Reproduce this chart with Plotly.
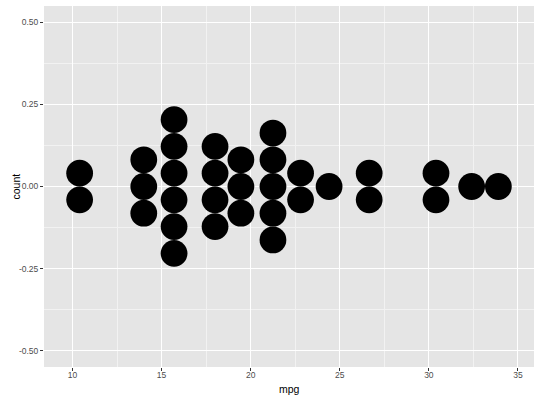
import plotly.graph_objects as go

# mtcars mpg values
mpg = [21.0, 21.0, 22.8, 21.4, 18.7, 18.1, 14.3, 24.4, 22.8, 19.2, 17.8, 16.4,
       17.3, 15.2, 10.4, 10.4, 14.7, 32.4, 30.4, 33.9, 21.5, 15.5, 15.2, 13.3,
       19.2, 27.3, 26.0, 30.4, 15.8, 19.7, 15.0, 21.4]
binwidth = 1.5
x_ticks = [10, 15, 20, 25, 30, 35]
x_minor = [12.5, 17.5, 22.5, 27.5, 32.5]
y_ticks = [-0.50, -0.25, 0.00, 0.25, 0.50]
y_tick_labels = ["-0.50", "-0.25", "0.00", "0.25", "0.50"]
y_minor = [-0.375, -0.125, 0.125, 0.375]
x_title = "mpg"
y_title = "count"

W, H = 540, 400
ML, MR, MT, MB = 44, 5.5, 5.5, 33.3

# dot-density binning (ggplot2 geom_dotplot default)
vals = sorted(mpg)
bins = []
binend = float("-inf")
for v in vals:
    if v >= binend:
        binend = v + binwidth
        bins.append([])
    bins[-1].append(v)
centers = [(min(b) + max(b)) / 2 for b in bins]
counts = [len(b) for b in bins]

# scales
lo, hi = min(vals) - binwidth / 2, max(vals) + binwidth / 2
pad = (hi - lo) * 0.05
x_range = [lo - pad, hi + pad]
y_range = [-0.55, 0.55]
plot_w = W - ML - MR
plot_h = H - MT - MB
px_per_x = plot_w / (x_range[1] - x_range[0])
px_per_y = plot_h / (y_range[1] - y_range[0])
diam = binwidth * px_per_x
step_y = diam / px_per_y

xs, ys = [], []
for c, n in zip(centers, counts):
    for i in range(n):
        xs.append(c)
        ys.append((i - (n - 1) / 2) * step_y)

fig = go.Figure()
fig.add_trace(go.Scatter(x=xs, y=ys, mode="markers",
                         marker=dict(size=diam, color="black", line=dict(width=0)),
                         hoverinfo="skip"))

font_fam = "Liberation Sans, Arial, sans-serif"
axis_common = dict(
    ticks="outside", ticklen=3, tickwidth=1, tickcolor="#333333",
    showgrid=True, gridcolor="white", gridwidth=1.1, zeroline=False,
    showline=False, tickfont=dict(family=font_fam, size=8.5, color="#4D4D4D"),
)
fig.update_layout(
    width=W, height=H,
    margin=dict(l=ML, r=MR, t=MT, b=MB, autoexpand=False),
    plot_bgcolor="#E5E5E5", paper_bgcolor="white",
    showlegend=False,
    font=dict(family=font_fam),
    xaxis=dict(range=x_range, tickmode="array", tickvals=x_ticks,
               ticktext=[str(t) for t in x_ticks], ticklabelstandoff=-3,
               minor=dict(tickmode="array", tickvals=x_minor, showgrid=True,
                          gridcolor="#F2F2F2", gridwidth=0.6, ticks=""),
               **axis_common),
    yaxis=dict(range=y_range, tickmode="array", tickvals=y_ticks,
               ticktext=y_tick_labels,
               minor=dict(tickmode="array", tickvals=y_minor, showgrid=True,
                          gridcolor="#F2F2F2", gridwidth=0.6, ticks=""),
               **axis_common),
    annotations=[
        dict(text=x_title, xref="paper", yref="paper", x=0.5,
             y=-(389 - (H - MB)) / plot_h, xanchor="center", yanchor="middle",
             showarrow=False, font=dict(size=10.5, color="black")),
        dict(text=y_title, xref="paper", yref="paper",
             x=(15 - ML) / plot_w, y=0.5, xanchor="center", yanchor="middle",
             textangle=-90, showarrow=False, font=dict(size=10.5, color="black")),
    ],
)
fig.write_html("out.html", config={"displayModeBar": False},
               post_script="document.body.style.margin='0px';")
